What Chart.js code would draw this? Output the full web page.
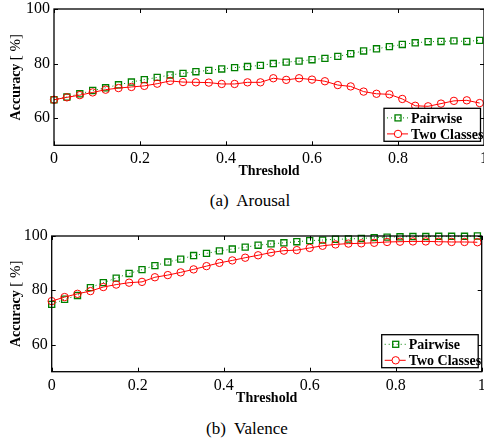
<!DOCTYPE html>
<html>
<head>
<meta charset="utf-8">
<script src="https://cdn.jsdelivr.net/npm/chart.js@4.4.1/dist/chart.umd.min.js"></script>
<style>
    body { margin: 0; background: #fff; width: 484px; height: 440px; overflow: hidden; position: relative; }
    canvas { position: absolute; left: 0; }
    .cap { position: absolute; width: 200px; text-align: center; font: 17px "Liberation Serif", serif; color: #000; }
</style>
</head>
<body>
<canvas id="arousal" width="484" height="182" style="top:0"></canvas>
<div class="cap" style="left:150px; top:191px">(a)&nbsp; Arousal</div>
<canvas id="valence" width="484" height="182" style="top:227px"></canvas>
<div class="cap" style="left:147px; top:419px">(b)&nbsp; Valence</div>

<script>
// пороги по оси X
const thresholds = [0, 0.03, 0.06, 0.09, 0.12, 0.15, 0.18, 0.21, 0.24, 0.27, 0.30, 0.33, 0.36, 0.39, 0.42, 0.45, 0.48,
    0.51, 0.54, 0.57, 0.60, 0.63, 0.66, 0.69, 0.72, 0.75, 0.78, 0.81, 0.84, 0.87, 0.90, 0.93, 0.96, 0.99];

const arousalPairwise = [66.7, 67.7, 68.9, 70.1, 71.1, 72.2, 73.2, 74.1, 74.9, 75.8, 76.4, 77.0, 77.5, 78.0, 78.5, 78.9, 79.3,
    80.0, 80.5, 80.9, 81.4, 81.9, 82.6, 83.6, 84.6, 85.4, 86.2, 87.0, 87.6, 88.0, 88.1, 88.3, 88.1, 88.5];
const arousalTwoClasses = [66.7, 67.6, 68.4, 69.4, 70.4, 71.0, 71.4, 71.8, 72.6, 73.6, 73.2, 73.1, 73.0, 72.5, 72.5, 73.1, 73.1,
    74.6, 74.0, 74.6, 74.1, 73.5, 72.1, 71.6, 69.7, 68.9, 68.7, 67.0, 64.5, 64.3, 65.3, 66.3, 66.5, 65.5];

const valencePairwise = [74.8, 76.7, 78.1, 81.0, 82.8, 84.5, 86.2, 87.6, 89.1, 90.4, 91.5, 92.8, 93.6, 94.5, 95.2, 95.9, 96.6,
    97.1, 97.5, 97.9, 98.3, 98.5, 98.8, 98.9, 99.1, 99.4, 99.6, 99.7, 99.8, 99.8, 99.9, 99.9, 99.9, 100];
const valenceTwoClasses = [76.0, 77.5, 78.7, 79.7, 81.2, 82.1, 82.8, 83.1, 84.8, 85.6, 86.6, 87.7, 88.9, 90.1, 91.0, 92.0, 92.9,
    93.9, 94.6, 94.8, 95.6, 96.4, 96.9, 97.2, 97.3, 97.5, 97.8, 97.9, 98.0, 98.0, 97.9, 97.8, 97.8, 97.7];

const xTicks = [0, 0.2, 0.4, 0.6, 0.8, 1];
const yTicks = [60, 80, 100];
const seriesNames = ['Pairwise', 'Two Classes'];

const FONT = '"Liberation Serif", "Times New Roman", serif';
const GREEN = '#008000';
const RED = '#ff0000';

// рамка, внутренние засечки, подпись оси Y и легенда внутри области графика
const decorPlugin = {
    id: 'decor',
    afterDraw(chart) {
        const {ctx, chartArea: a, scales: {x, y}} = chart;
        ctx.save();
        ctx.strokeStyle = '#000';
        ctx.lineWidth = 1.3;
        ctx.strokeRect(a.left, a.top, a.right - a.left, a.bottom - a.top);

        ctx.lineWidth = 1;
        const t = 4;
        ctx.beginPath();
        xTicks.forEach(v => {
            const px = Math.round(x.getPixelForValue(v)) + 0.5;
            ctx.moveTo(px, a.bottom); ctx.lineTo(px, a.bottom - t);
            ctx.moveTo(px, a.top); ctx.lineTo(px, a.top + t);
        });
        yTicks.forEach(v => {
            const py = Math.round(y.getPixelForValue(v)) + 0.5;
            ctx.moveTo(a.left, py); ctx.lineTo(a.left + t, py);
            ctx.moveTo(a.right, py); ctx.lineTo(a.right - t, py);
        });
        ctx.stroke();

        // подпись оси Y: "Accuracy" жирным, "[ %]" обычным
        const boldFont = 'bold 14px ' + FONT;
        const normFont = '15px ' + FONT;
        ctx.font = boldFont;
        const w1 = ctx.measureText('Accuracy ').width;
        ctx.font = normFont;
        const w2 = ctx.measureText('[ %]').width;
        ctx.translate(16, (a.top + a.bottom) / 2);
        ctx.rotate(-Math.PI / 2);
        ctx.textBaseline = 'middle';
        ctx.fillStyle = '#000';
        ctx.font = boldFont;
        ctx.fillText('Accuracy ', -(w1 + w2) / 2, 0);
        ctx.font = normFont;
        ctx.fillText('[ %]', -(w1 + w2) / 2 + w1, 0);
        ctx.restore();

        // легенда
        ctx.save();
        const bw = 96.5, bh = 33;
        const bx = a.right - 3.5 - bw, by = a.bottom - 4 - bh;
        ctx.fillStyle = '#fff';
        ctx.fillRect(bx, by, bw, bh);
        ctx.strokeStyle = '#000';
        ctx.lineWidth = 1.3;
        ctx.strokeRect(bx, by, bw, bh);

        const rows = [by + 9.6, by + 25.6];
        ctx.lineWidth = 1;
        // Pairwise
        ctx.strokeStyle = GREEN;
        ctx.setLineDash([1, 3]);
        ctx.beginPath(); ctx.moveTo(bx + 3, rows[0]); ctx.lineTo(bx + 24, rows[0]); ctx.stroke();
        ctx.setLineDash([]);
        ctx.lineWidth = 1.3;
        ctx.strokeRect(bx + 14 - 3, rows[0] - 3, 6, 6);
        // Two Classes
        ctx.lineWidth = 1;
        ctx.strokeStyle = RED;
        ctx.beginPath(); ctx.moveTo(bx + 3, rows[1]); ctx.lineTo(bx + 24, rows[1]); ctx.stroke();
        ctx.fillStyle = '#fff';
        ctx.beginPath(); ctx.arc(bx + 14, rows[1], 3.7, 0, Math.PI * 2); ctx.fill(); ctx.stroke();

        ctx.fillStyle = '#000';
        ctx.font = 'bold 14px ' + FONT;
        ctx.textBaseline = 'middle';
        ctx.fillText(seriesNames[0], bx + 27, rows[0] + 1);
        ctx.fillText(seriesNames[1], bx + 27, rows[1] + 1);
        ctx.restore();
    }
};

function makeChart(id, pairwise, twoClasses, yAxisWidth, rightPad, plotHeight) {
    const ctx = document.getElementById(id);

    const toPoints = arr => arr.map((v, i) => ({x: thresholds[i], y: v}));

    const data = {
        datasets: [
            {
                label: seriesNames[0],
                data: toPoints(pairwise),
                borderColor: GREEN,
                borderWidth: 1,
                borderDash: [1, 3],
                pointStyle: 'rect',
                pointRadius: 4.3,
                pointBorderWidth: 1.3,
                pointBorderColor: GREEN,
                pointBackgroundColor: 'rgba(0,0,0,0)',
                clip: false,
                order: 2
            },
            {
                label: seriesNames[1],
                data: toPoints(twoClasses),
                borderColor: RED,
                borderWidth: 1,
                pointStyle: 'circle',
                pointRadius: 3.7,
                pointBorderWidth: 1,
                pointBorderColor: RED,
                pointBackgroundColor: 'rgba(0,0,0,0)',
                clip: false,
                order: 1
            }
        ]
    };

    const config = {
        type: 'line',
        data: data,
        options: {
            responsive: false,
            animation: false,
            devicePixelRatio: 1,
            layout: {autoPadding: false, padding: {top: 9, right: rightPad, left: 0, bottom: 0}},
            plugins: {legend: {display: false}, tooltip: {enabled: false}},
            scales: {
                x: {
                    type: 'linear',
                    min: 0,
                    max: 1,
                    afterBuildTicks: s => { s.ticks = xTicks.map(v => ({value: v})); },
                    afterFit: s => {
                        s.height = 182 - 9 - plotHeight;
                        s.paddingLeft = 0;
                        s.paddingRight = 0;
                    },
                    grid: {display: false, drawTicks: false},
                    border: {display: false},
                    ticks: {
                        padding: 4,
                        maxRotation: 0,
                        autoSkip: false,
                        color: '#000',
                        font: {family: FONT, size: 16},
                        callback: v => String(v)
                    },
                    title: {
                        display: true,
                        text: 'Threshold',
                        color: '#000',
                        font: {family: FONT, size: 14, weight: 'bold'},
                        padding: {top: 0, bottom: 2}
                    }
                },
                y: {
                    min: 50,
                    max: 100,
                    afterBuildTicks: s => { s.ticks = yTicks.map(v => ({value: v})); },
                    afterFit: s => {
                        s.width = yAxisWidth;
                        s.paddingTop = 0;
                        s.paddingBottom = 0;
                    },
                    grid: {display: false, drawTicks: false},
                    border: {display: false},
                    ticks: {
                        padding: 4,
                        color: '#000',
                        font: {family: FONT, size: 16},
                        callback: v => String(v)
                    }
                }
            }
        },
        plugins: [decorPlugin]
    };

    new Chart(ctx, config);
}

makeChart('arousal', arousalPairwise, arousalTwoClasses, 54, 0, 136.3);
makeChart('valence', valencePairwise, valenceTwoClasses, 51.7, 2.3, 135.7);
</script>
</body>
</html>
